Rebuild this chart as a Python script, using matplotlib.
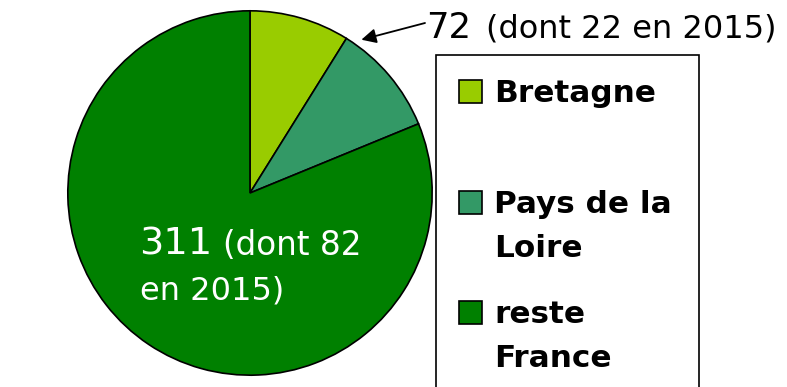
import numpy as np
import matplotlib
matplotlib.use('Agg')
import matplotlib.pyplot as plt
from matplotlib.patches import Rectangle

plt.rcParams['font.family'] = ['DejaVu Sans']

# Parts of the total (Bretagne + Pays de la Loire = 72, rest of France = 311)
regions = ['Bretagne', 'Pays de la\nLoire', 'reste\nFrance']
counts = [34, 38, 311]
colors = ['#99CC00', '#339966', '#008000']
ouest_total = 72
ouest_2015 = 22
reste_2015 = 82

W, H = 787, 387
fig = plt.figure(figsize=(W / 100, H / 100), dpi=100)


def fx(x):
    return x / W


def fy(y):
    return 1 - y / H


# pie centre (250, 193) px, radius 184 px
cx, cy, r = 250, 193, 184
ax = fig.add_axes([fx(cx - r), fy(cy + r), 2 * r / W, 2 * r / H])
wedges, _ = ax.pie(counts, colors=colors, startangle=90, counterclock=False,
                   wedgeprops=dict(edgecolor='black', linewidth=1.2))
ax.set_xlim(-1.01, 1.01)
ax.set_ylim(-1.01, 1.01)
ax.set_aspect('equal')
ax.axis('off')

# label for Bretagne + Pays de la Loire, with arrow to the top of the pie
tip = np.deg2rad(54)
ax.annotate('', xy=(1.04 * np.cos(tip), 1.04 * np.sin(tip)), xycoords='data',
            xytext=(425, H - 23), textcoords='figure pixels',
            arrowprops=dict(arrowstyle='-|>', color='black', lw=1.3,
                            mutation_scale=22, shrinkA=0, shrinkB=0))
fig.text(fx(426), fy(38), str(ouest_total), fontsize=25.5, va='baseline')
fig.text(fx(486), fy(38), f'(dont {ouest_2015} en 2015)', fontsize=23, va='baseline')

# label inside the large slice
fig.text(fx(139), fy(255), str(counts[2]), fontsize=27.5, color='white', va='baseline')
fig.text(fx(223), fy(255), f'(dont {reste_2015}', fontsize=23.5, color='white', va='baseline')
fig.text(fx(140), fy(300), 'en 2015)', fontsize=23, color='white', va='baseline')

# legend box (bottom edge runs past the figure)
fig.patches.append(Rectangle((fx(436), fy(400)), (699 - 436) / W, (400 - 55) / H,
                             transform=fig.transFigure, facecolor='white',
                             edgecolor='black', linewidth=1.2))
sq_tops = [80, 191, 301]
line_step = 44
for w, lab, top in zip(wedges, regions, sq_tops):
    fig.patches.append(Rectangle((fx(459), fy(top + 23)), 23 / W, 23 / H,
                                 transform=fig.transFigure,
                                 facecolor=w.get_facecolor(), edgecolor='black',
                                 linewidth=1.2))
    for i, line in enumerate(lab.split('\n')):
        fig.text(fx(494), fy(top + 22 + i * line_step), line, fontsize=22.4,
                 fontweight='bold', va='baseline')

fig.savefig('out.png', dpi=100)
